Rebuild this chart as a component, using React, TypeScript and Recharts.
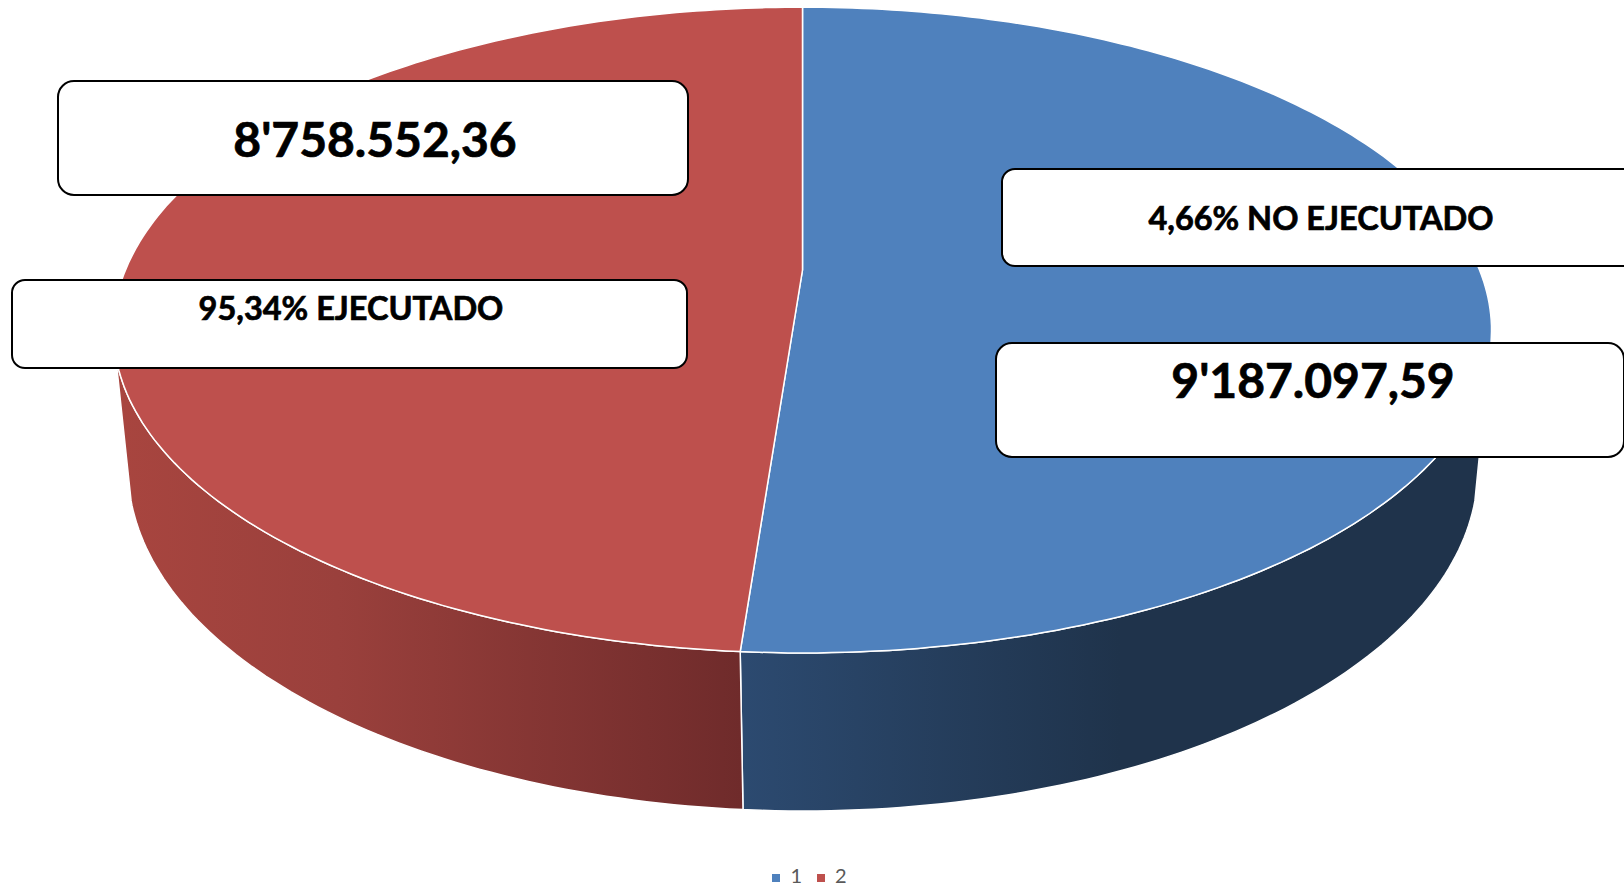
import { PieChart, Pie, Legend } from "recharts";

const sliceNames = ["1", "2"];
const sliceValues = [9187097.59, 8758552.36];
const sliceColors = ["#4F81BD", "#BE504D"];
const wallFills = ["url(#wallBlue)", "url(#wallRed)"];

const calloutTexts = ["8'758.552,36", "95,34% EJECUTADO", "4,66% NO EJECUTADO", "9'187.097,59"];

const chartData = sliceNames.map((name, i) => ({ name, value: sliceValues[i], fill: sliceColors[i], wall: wallFills[i] }));

// boxes drawn on top of the pie, same order as calloutTexts
const boxes = [
  { x: 58, y: 81, w: 630, h: 114, r: 16, tx: 375, ty: 157, size: 48 },
  { x: 12, y: 280, w: 675, h: 88, r: 13, tx: 351, ty: 320, size: 32.5 },
  { x: 1002, y: 169, w: 640, h: 97, r: 13, tx: 1321, ty: 230, size: 32.5 },
  { x: 996, y: 343, w: 628, h: 114, r: 16, tx: 1313, ty: 398, size: 48 },
];

// perspective rings of the pie, t is degrees clockwise from the top
const topRing = { cx: 802.5, cy: 270, a: 677, b: 311.7, k: 0.186 };
const baseRing = { cx: 803, cy: 411, a: 665, b: 332, k: 0.17 };
const WALL_FROM = 105;
const WALL_TO = 255;

type Ring = typeof topRing;

function project(t: number, ring: Ring) {
  const rad = (t * Math.PI) / 180;
  const u = Math.sin(rad);
  const v = -Math.cos(rad);
  const d = 1 - ring.k * v;
  return `${(ring.cx + (ring.a * u) / d).toFixed(1)},${(ring.cy + (ring.b * v) / d).toFixed(1)}`;
}

function sweep(from: number, to: number) {
  const out: number[] = [];
  for (let t = from; t < to; t += 1) out.push(t);
  out.push(to);
  return out;
}

function Slice3D(props: any) {
  const from = 90 - props.startAngle;
  const to = 90 - props.endAngle;
  const top = sweep(from, to).map((t) => project(t, topRing));
  const wallA = Math.max(from, WALL_FROM);
  const wallB = Math.min(to, WALL_TO);
  const wallTop = sweep(wallA, wallB).map((t) => project(t, topRing));
  const wallBase = sweep(wallA, wallB).reverse().map((t) => project(t, baseRing));
  return (
    <g>
      <polygon points={[...wallTop, ...wallBase].join(" ")} fill={props.payload?.wall ?? props.wall} stroke="#fff" strokeWidth={1.5} strokeLinejoin="round" />
      <polygon points={[`${topRing.cx},${topRing.cy}`, ...top].join(" ")} fill={props.fill} stroke="#fff" strokeWidth={1.5} strokeLinejoin="round" />
    </g>
  );
}

export default function App() {
  return (
    <div style={{ position: "absolute", left: 0, top: 0, width: 1624, height: 887, overflow: "hidden", background: "#fff" }}>
      <PieChart width={1624} height={887} margin={{ top: 0, right: 0, bottom: 0, left: 0 }}>
        <defs>
          <linearGradient id="wallRed" gradientUnits="userSpaceOnUse" x1="120" x2="742" y1="0" y2="0">
            <stop offset="0%" stopColor="#A8453F" />
            <stop offset="35%" stopColor="#9A403C" />
            <stop offset="100%" stopColor="#6F2B2B" />
          </linearGradient>
          <linearGradient id="wallBlue" gradientUnits="userSpaceOnUse" x1="742" x2="1120" y1="0" y2="0">
            <stop offset="0%" stopColor="#2C4A70" />
            <stop offset="100%" stopColor="#1F334B" />
          </linearGradient>
        </defs>
        <Pie
          data={chartData}
          dataKey="value"
          nameKey="name"
          cx={802.5}
          cy={270}
          outerRadius={300}
          startAngle={90}
          endAngle={-270}
          shape={Slice3D}
          isAnimationActive={false}
        />
        <Legend
          iconType="square"
          iconSize={8}
          formatter={(v: string) => <span style={{ color: "#595959", marginLeft: 6, marginRight: 5 }}>{v}</span>}
          wrapperStyle={{ left: 0, width: 1634, top: 863, fontFamily: "Lato", fontSize: 20 }}
        />
      </PieChart>
      <svg width={1624} height={887} style={{ position: "absolute", left: 0, top: 0, pointerEvents: "none" }}>
        {boxes.map((b, i) => (
          <g key={calloutTexts[i]}>
            <rect x={b.x} y={b.y} width={b.w} height={b.h} rx={b.r} fill="#fff" stroke="#000" strokeWidth={2} />
            <text x={b.tx} y={b.ty} textAnchor="middle" fontFamily="Lato" fontWeight={700} fontSize={b.size} fill="#000" stroke="#000" strokeWidth={0.7}>
              {calloutTexts[i]}
            </text>
          </g>
        ))}
      </svg>
    </div>
  );
}
